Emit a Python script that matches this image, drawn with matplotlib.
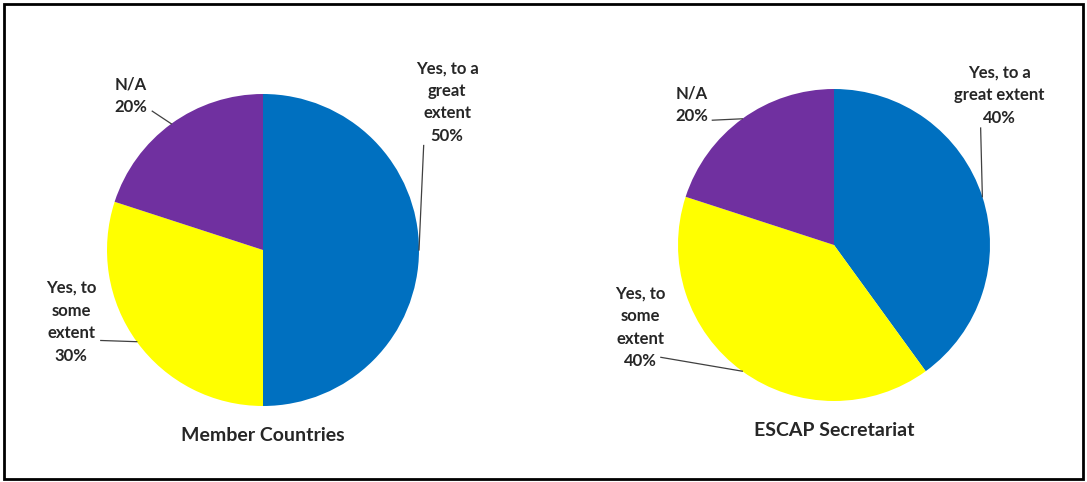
import numpy as np
import matplotlib.pyplot as plt
from matplotlib.patches import Rectangle

plt.rcParams['font.family'] = ['Lato', 'DejaVu Sans']

# data
categories = ['Yes, to a great extent', 'Yes, to some extent', 'N/A']
member_values = [50, 30, 20]
escap_values = [40, 40, 20]
colors = ['#0070C0', '#FFFF00', '#7030A0']

member_names = ['Yes, to a\ngreat\nextent', 'Yes, to\nsome\nextent', 'N/A']
escap_names = ['Yes, to a\ngreat extent', 'Yes, to\nsome\nextent', 'N/A']

W, H = 1087, 482
R = 156.0

fig = plt.figure(figsize=(W / 100, H / 100), dpi=100)
fig.patch.set_facecolor('white')


def make_pie(cx, cy, values, names, title, text_pos, lead_pos, title_y):
    ax = fig.add_axes([(cx - R) / W, (H - cy - R) / H, 2 * R / W, 2 * R / H])
    wedges, _ = ax.pie(values, colors=colors, startangle=90, counterclock=False,
                       radius=1, wedgeprops=dict(linewidth=0))
    ax.set_xlim(-1, 1)
    ax.set_ylim(-1, 1)
    ax.axis('off')
    for w, v, name, tp, lp in zip(wedges, values, names, text_pos, lead_pos):
        mid = np.deg2rad((w.theta1 + w.theta2) / 2)
        ex, ey = np.cos(mid), np.sin(mid)
        ax.plot([lp[0], ex], [lp[1], ey], color='#404040', lw=0.9, clip_on=False)
        ax.text(tp[0], tp[1], f'{name}\n{v}%', ha='center', va='center',
                fontsize=12, fontweight='bold', color='#262626',
                linespacing=1.5, clip_on=False)
    ax.text(0, title_y, title, ha='center', va='center', fontsize=14,
            fontweight='bold', color='#262626', clip_on=False)
    return ax


make_pie(263, 250, member_values, member_names, 'Member Countries',
         text_pos=[(1.18, 0.95), (-1.23, -0.46), (-0.85, 0.99)],
         lead_pos=[(1.03, 0.67), (-1.04, -0.58), (-0.71, 0.89)],
         title_y=-1.19)

make_pie(834, 245, escap_values, escap_names, 'ESCAP Secretariat',
         text_pos=[(1.06, 0.96), (-1.24, -0.53), (-0.91, 0.90)],
         lead_pos=[(0.94, 0.75), (-1.11, -0.72), (-0.78, 0.80)],
         title_y=-1.19)

fig.patches.append(Rectangle((4 / W, 3 / H), (W - 8) / W, (H - 7) / H,
                             transform=fig.transFigure, fill=False,
                             edgecolor='black', lw=2))

fig.savefig('out.png', dpi=100)
